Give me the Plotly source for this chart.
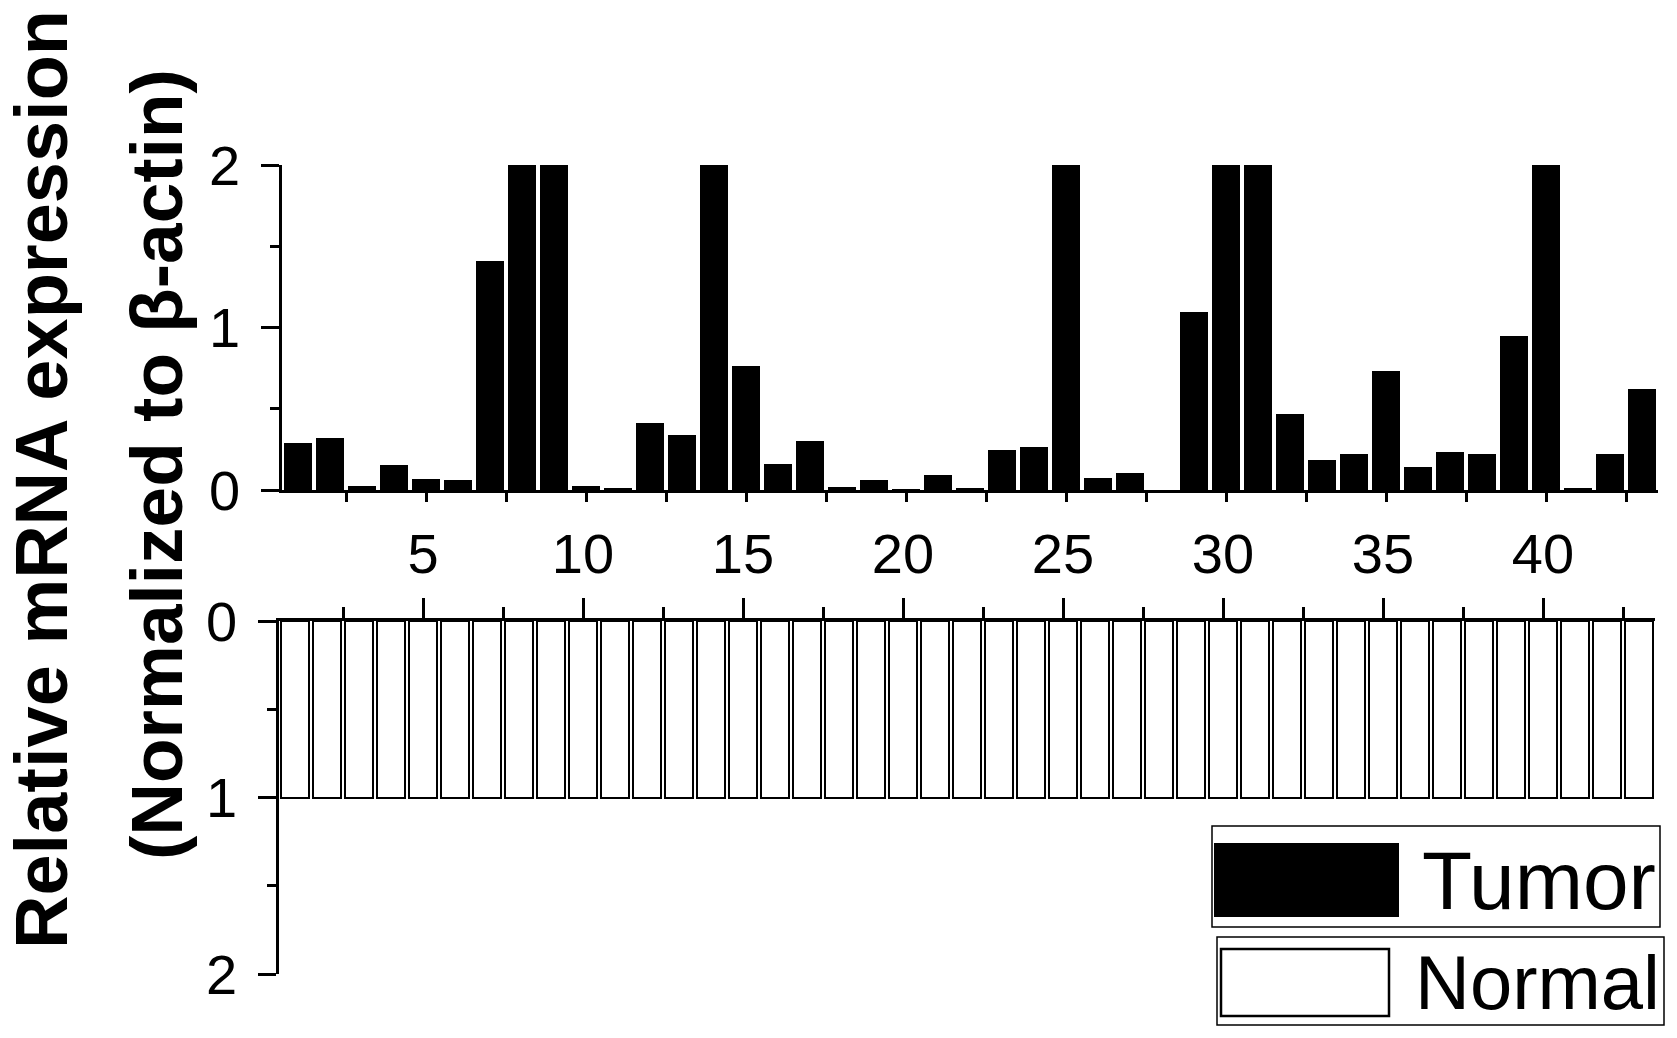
import plotly.graph_objects as go

W, H = 1677, 1038

samples = list(range(1, 44))
tumor = [0.29, 0.32, 0.025, 0.156, 0.068, 0.062, 1.41, 2.0, 2.0, 0.025,
         0.012, 0.41, 0.336, 2.0, 0.765, 0.162, 0.30, 0.018, 0.062, 0.006,
         0.094, 0.012, 0.244, 0.265, 2.0, 0.074, 0.106, 0.0, 1.095, 2.0,
         2.0, 0.468, 0.183, 0.219, 0.73, 0.144, 0.232, 0.219, 0.948, 2.0,
         0.012, 0.219, 0.622]
normal = [1.0] * 43
series_names = ["Tumor", "Normal"]
y_ticks = [0, 1, 2]
x_ticks = [5, 10, 15, 20, 25, 30, 35, 40]

FONT = "Liberation Sans, Arial, sans-serif"

fig = go.Figure()
fig.add_trace(go.Bar(x=samples, y=tumor, name=series_names[0], width=0.85,
                     marker=dict(color="black", line=dict(width=0)),
                     xaxis="x", yaxis="y", showlegend=False))
fig.add_trace(go.Bar(x=samples, y=normal, name=series_names[1], width=0.85,
                     marker=dict(color="white", line=dict(color="black", width=2)),
                     xaxis="x2", yaxis="y2", showlegend=False))

def px(x):
    return x / W

def py(y):
    return 1 - y / H

axis_common = dict(showline=True, linecolor="black", linewidth=2.5, showgrid=False,
                   zeroline=False, ticks="outside", tickcolor="black", tickwidth=2.5,
                   automargin=False,
                   tickfont=dict(family=FONT, size=56, color="black"))
axis_nofont = {k: v for k, v in axis_common.items() if k != "tickfont"}

fig.update_layout(
    template="none",
    width=W, height=H,
    margin=dict(l=0, r=0, t=0, b=0, pad=0, autoexpand=False),
    paper_bgcolor="white", plot_bgcolor="white",
    bargap=0,
    xaxis=dict(domain=[px(282), px(1658)], range=[0.5, 43.5], anchor="y",
               tick0=0, dtick=2.5, ticklen=9, showticklabels=False,
               **axis_nofont),
    yaxis=dict(domain=[py(490), py(165)], range=[0, 2], anchor="x",
               tickvals=y_ticks, ticklen=18, ticklabelstandoff=10,
               minor=dict(dtick=0.5, tick0=0, ticklen=9, tickwidth=2.5,
                          ticks="outside", tickcolor="black"),
               **axis_common),
    xaxis2=dict(domain=[px(279), px(1655)], range=[0.5, 43.5], anchor="y2",
                side="top", tickvals=x_ticks, ticklen=20, ticklabelstandoff=3,
                minor=dict(dtick=2.5, tick0=0, ticklen=11, tickwidth=2.5,
                           ticks="outside", tickcolor="black"),
                **axis_common),
    yaxis2=dict(domain=[py(974), py(621)], range=[2, 0], anchor="x2",
                tickvals=y_ticks, ticklen=18, ticklabelstandoff=10,
                minor=dict(dtick=0.5, tick0=0, ticklen=9, tickwidth=2.5,
                           ticks="outside", tickcolor="black"),
                **axis_common),
)

# Axis title (two rotated lines)
fig.add_annotation(text="<b>Relative mRNA expression</b>", textangle=-90,
                   xref="paper", yref="paper", x=px(41), y=py(480),
                   xanchor="center", yanchor="middle", showarrow=False,
                   font=dict(family=FONT, size=74, color="black"))
fig.add_annotation(text="<b>(Normalized to β-actin)</b>", textangle=-90,
                   xref="paper", yref="paper", x=px(157), y=py(465),
                   xanchor="center", yanchor="middle", showarrow=False,
                   font=dict(family=FONT, size=73, color="black"))

# Legend boxes
fig.add_shape(type="rect", xref="paper", yref="paper",
              x0=px(1212), x1=px(1660), y0=py(927), y1=py(826),
              line=dict(color="black", width=1.5), fillcolor="white")
fig.add_shape(type="rect", xref="paper", yref="paper",
              x0=px(1214), x1=px(1399), y0=py(917), y1=py(843),
              line=dict(color="black", width=0), fillcolor="black")
fig.add_annotation(text=series_names[0], xref="paper", yref="paper",
                   x=px(1420), y=py(880), xanchor="left", yanchor="middle",
                   showarrow=False, font=dict(family=FONT, size=82, color="black"))

fig.add_shape(type="rect", xref="paper", yref="paper",
              x0=px(1217), x1=px(1664), y0=py(1025), y1=py(937),
              line=dict(color="black", width=1.5), fillcolor="white")
fig.add_shape(type="rect", xref="paper", yref="paper",
              x0=px(1221), x1=px(1389), y0=py(1016), y1=py(949),
              line=dict(color="black", width=2.5), fillcolor="white")
fig.add_annotation(text=series_names[1], xref="paper", yref="paper",
                   x=px(1413), y=py(982), xanchor="left", yanchor="middle",
                   showarrow=False, font=dict(family=FONT, size=76, color="black"))

fig.write_html("out.html", config={"displayModeBar": False},
               post_script="document.body.style.margin='0';document.body.style.overflow='hidden';")
